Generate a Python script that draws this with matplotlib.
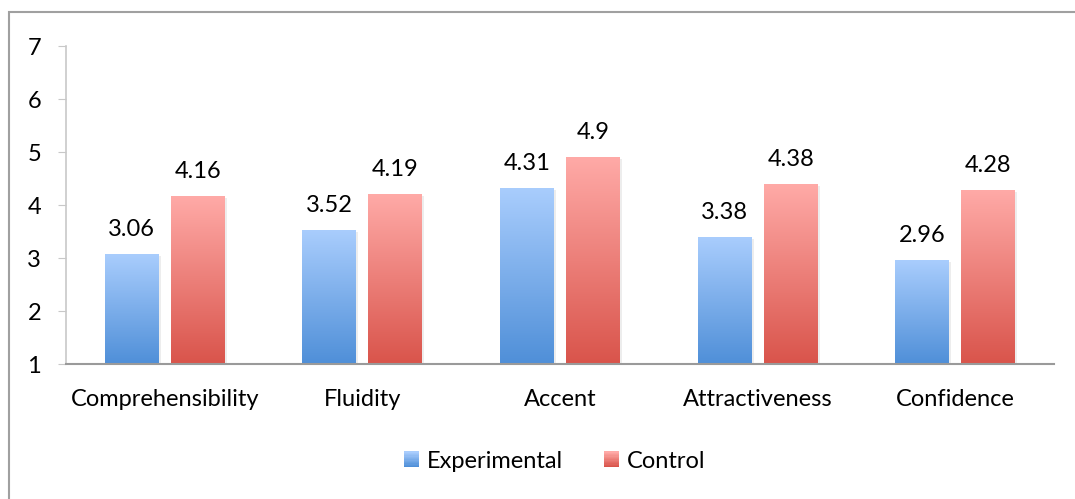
import numpy as np
import matplotlib.pyplot as plt
from matplotlib.patches import Rectangle
from matplotlib.legend_handler import HandlerBase
from matplotlib.colors import LinearSegmentedColormap
from matplotlib.transforms import offset_copy

plt.rcParams["font.family"] = ["Lato", "DejaVu Sans"]

categories = ["Comprehensibility", "Fluidity", "Accent", "Attractiveness", "Confidence"]
experimental = [3.06, 3.52, 4.31, 3.38, 2.96]
control = [4.16, 4.19, 4.9, 4.38, 4.28]

blue_cmap = LinearSegmentedColormap.from_list("blue", ["#4f8fd8", "#a9cdfd"])
red_cmap = LinearSegmentedColormap.from_list("red", ["#d9544b", "#ffaaa7"])


def gradient_fill(ax, bars, cmap):
    grad = np.linspace(0, 1, 256).reshape(-1, 1)
    for bar in bars:
        x, y = bar.get_x(), bar.get_y()
        w, h = bar.get_width(), bar.get_height()
        # keep the bar patch as a faint drop shadow
        bar.set_facecolor("#000000")
        bar.set_alpha(0.07)
        bar.set_edgecolor("none")
        bar.set_transform(offset_copy(ax.transData, fig=ax.figure, x=2, y=-1.5,
                                      units="dots"))
        ax.imshow(grad, cmap=cmap, origin="lower", aspect="auto",
                  extent=(x, x + w, y, y + h), zorder=2)


class GradientHandler(HandlerBase):
    def __init__(self, cmap):
        super().__init__()
        self.cmap = cmap

    def create_artists(self, legend, orig_handle, xdescent, ydescent,
                       width, height, fontsize, trans):
        n = 12
        side = height * 0.95
        x0 = -xdescent + width - side
        y0 = -ydescent + (height - side) / 2
        artists = []
        for i in range(n):
            r = Rectangle((x0, y0 + side * i / n), side, side / n + 0.3,
                          facecolor=self.cmap(i / (n - 1)), edgecolor="none",
                          transform=trans)
            artists.append(r)
        return artists


fig = plt.figure(figsize=(10.75, 4.99), dpi=100)
ax = fig.add_axes([0.0614, 0.2705, 0.9191, 0.6373])

x = np.arange(len(categories))
width = 0.273
b1 = ax.bar(x - 0.167, experimental, width, label="Experimental")
b2 = ax.bar(x + 0.167, control, width, label="Control")
# bars start at the axis floor of 1
for bars, vals in ((b1, experimental), (b2, control)):
    for bar, v in zip(bars, vals):
        bar.set_y(1)
        bar.set_height(v - 1)

gradient_fill(ax, b1, blue_cmap)
gradient_fill(ax, b2, red_cmap)

for bars, vals in ((b1, experimental), (b2, control)):
    for bar, v in zip(bars, vals):
        ax.annotate(f"{v:g}", (bar.get_x() + bar.get_width() / 2, v),
                    xytext=(0, 10.5), textcoords="offset points",
                    ha="center", va="bottom", fontsize=17)

ax.set_xlim(-0.5, len(categories) - 0.5)
ax.set_ylim(1, 7)
ax.set_yticks(range(1, 8))
ax.set_xticks(x)
ax.set_xticklabels(categories, fontsize=17)
ax.tick_params(axis="y", labelsize=17, length=6, color="#c8c8c8", pad=12)
ax.tick_params(axis="x", length=0, pad=18)

for side in ("top", "right"):
    ax.spines[side].set_visible(False)
ax.spines["left"].set_color("#c8c8c8")
ax.spines["left"].set_linewidth(1.2)
ax.spines["bottom"].set_color("#9a9a9a")
ax.spines["bottom"].set_linewidth(1.5)

handles = [Rectangle((0, 0), 1, 1), Rectangle((0, 0), 1, 1)]
fig.legend(handles, ["Experimental", "Control"], loc="center",
           bbox_to_anchor=(0.5158, 0.076), ncol=2, frameon=False, fontsize=17,
           handlelength=0.65, handletextpad=0.3, columnspacing=1.75,
           handler_map={handles[0]: GradientHandler(blue_cmap),
                        handles[1]: GradientHandler(red_cmap)})

# outer chart frame
fig.patches.append(Rectangle((9 / 1075, -0.1), 1.2, 1 - 12 / 499 + 0.1,
                             transform=fig.transFigure, fill=False,
                             edgecolor="#a0a0a0", linewidth=1.5))

fig.savefig("out.png", dpi=100)
